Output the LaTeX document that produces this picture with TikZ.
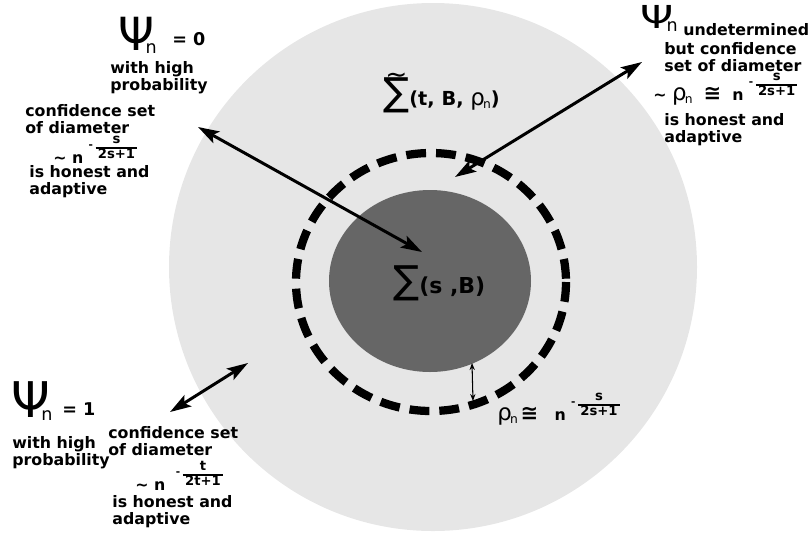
\documentclass[tikz,border=0pt]{standalone}
\usepackage{fontspec}
\setmainfont{DejaVu Sans}
\usetikzlibrary{arrows.meta,positioning}
\definecolor{outergray}{HTML}{E6E6E6}
\definecolor{innergray}{HTML}{666666}
\newcommand{\psin}[1]{{\fontsize{#1}{#1}\selectfont\mdseries Ψ}\kern-5pt\raisebox{-2pt}{\fontsize{10}{10}\selectfont\mdseries n}}
\newcommand{\rhon}{{\fontsize{13}{13}\selectfont\mdseries ρ}\kern-1pt\raisebox{-2pt}{\fontsize{7}{7}\selectfont\mdseries n}}
\newcommand{\fexp}[2]{\kern3pt\raisebox{8.5pt}{\fontsize{6}{6}\selectfont -}\kern1.5pt\raisebox{2.5pt}{\fontsize{7.5}{8}\selectfont\setlength{\arrayrulewidth}{1.1pt}\renewcommand{\arraystretch}{0.85}\begin{tabular}[b]{@{\,}c@{\,}}#1\\\hline #2\end{tabular}}}
\newcommand{\bigsum}{{\fontsize{22}{22}\selectfont\mdseries ∑}}
\newcommand{\tildesum}{\ooalign{\bigsum\cr\hidewidth\raisebox{12pt}{\fontsize{15}{15}\selectfont\mdseries\char"007E}\hidewidth\cr}}
\tikzset{
  lbl/.style={font=\fontsize{9}{10}\selectfont\bfseries, inner sep=0pt, align=left, anchor=north west},
  bigarrow/.style={{Stealth[length=12pt,width=7.5pt,inset=2.5pt]}-{Stealth[length=12pt,width=7.5pt,inset=2.5pt]}, line width=1.7pt},
  smallarrow/.style={{Stealth[length=4pt,width=3pt]}-{Stealth[length=4pt,width=3pt]}, line width=0.6pt},
  dashring/.style={line width=4.7pt, dash pattern=on 11.3pt off 5.7pt}
}
\begin{document}
\begin{tikzpicture}[x=0.02cm, y=-0.02cm]
\useasboundingbox (0,0) rectangle (808,535);

% sets
\fill[outergray] (433,267) circle (264);
\fill[innergray] (430,281) ellipse (101 and 91);
\draw[dashring] (431,282) ellipse (135 and 129);

% set names
\node[lbl, anchor=base west] (sigtilde) at (383,105) {\tildesum\fontsize{11}{11}\selectfont(t, B, \rhon)};
\node[lbl, anchor=base west] (sigma) at (393,293) {\bigsum\fontsize{12.5}{12.5}\selectfont(s ,B)};

% top left
\node[inner sep=0pt, anchor=base west] (psizero) at (118,50) {\psin{26}};
\node[lbl, anchor=base west, font=\fontsize{10}{10}\selectfont\bfseries] (eqzero) at (172,45) {= 0};
\node[lbl] (probzero) at (110,61) {with high\\probability};
\node[lbl] (confzero) at (25,104) {confidence set\\of diameter};
\node[lbl, anchor=base west] (ratezero) at (53,163) {\char"007E{} n\fexp{s}{2s+1}};
\node[lbl] (honestzero) at (29,165) {is honest and\\adaptive};

% top right
\node[inner sep=0pt, anchor=base west] (psiund) at (640,28) {\scalebox{1}[0.75]{\fontsize{24}{24}\selectfont Ψ}\kern-4pt\raisebox{-2pt}{\fontsize{10}{10}\selectfont n}};
\node[lbl] (undet) at (683,23) {undetermined};
\node[lbl] (confund) at (664,42) {but confidence\\set of diameter};
\node[lbl, anchor=base west] (rateund) at (653,100) {\char"007E{} \rhon\ \ {\fontsize{12}{12}\selectfont ≅}\ \ n\fexp{s}{2s+1}};
\node[lbl] (honestund) at (664,113) {is honest and\\adaptive};

% bottom left
\node[inner sep=0pt, anchor=base west] (psione) at (11,417) {\psin{28}};
\node[lbl, anchor=base west, font=\fontsize{10}{10}\selectfont\bfseries] (eqone) at (62,415) {= 1};
\node[lbl] (probone) at (12,436) {with high\\probability};
\node[lbl] (confone) at (108,426) {confidence set\\of diameter};
\node[lbl, anchor=base west] (rateone) at (135,490) {\char"007E{} n\kern3pt\fexp{t}{2t+1}};
\node[lbl] (honestone) at (112,495) {is honest and\\adaptive};

% radius label
\node[lbl, anchor=base west] (radius) at (497,420) {\rhon\,{\fontsize{12}{12}\selectfont ≅}\ \ \ n\fexp{s}{2s+1}};

% arrows
\coordinate (azero) at (198,127);
\coordinate (bzero) at (422,252);
\coordinate (aund) at (455,177);
\coordinate (bund) at (642,62);
\coordinate (aone) at (170,412);
\coordinate (bone) at (248,363);
\coordinate (ain) at (472,363);
\coordinate (aout) at (473,401);
\draw[bigarrow] (azero) -- (bzero);
\draw[bigarrow] (aund) -- (bund);
\draw[bigarrow] (aone) -- (bone);
\draw[smallarrow] (ain) -- (aout);
\end{tikzpicture}
\end{document}
